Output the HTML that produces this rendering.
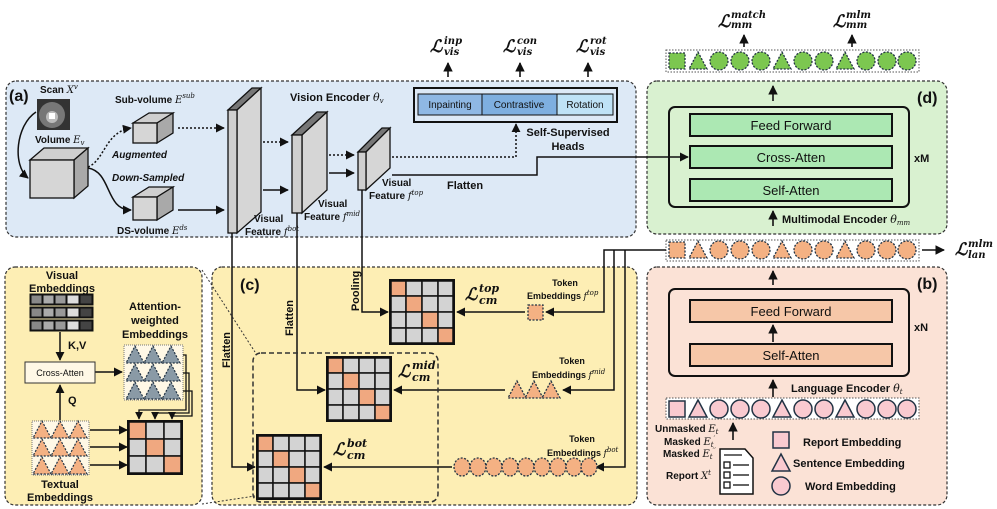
<!DOCTYPE html>
<html><head><meta charset="utf-8"><style>
html,body{margin:0;padding:0;background:#fff}
svg{display:block}
text{font-family:"Liberation Sans",sans-serif;font-weight:bold;fill:#111}
.m{font-family:"DejaVu Serif","Liberation Serif",serif;font-style:italic;font-weight:bold}
.r{font-weight:normal}
</style></head><body>
<svg width="997" height="509" viewBox="0 0 997 509" xmlns="http://www.w3.org/2000/svg">
<defs>
<marker id="ah" viewBox="0 0 10 10" refX="9" refY="5" markerWidth="6" markerHeight="6" orient="auto-start-reverse"><path d="M0,0 L10,5 L0,10 z" fill="#111"/></marker>
<g id="sq"><rect x="-8" y="-8" width="16" height="16"/></g>
<g id="tr"><polygon points="0,-9 9,8 -9,8"/></g>
<g id="ci"><circle r="9"/></g>
<g id="m4">
<rect x="0" y="0" width="64" height="64" fill="#d3d3d3" stroke="#111" stroke-width="2"/>
<g stroke="#111" stroke-width="1.5" fill="#d3d3d3">
<rect x="1" y="1" width="15" height="15" fill="#f0a880"/><rect x="16" y="1" width="16" height="15"/><rect x="32" y="1" width="16" height="15"/><rect x="48" y="1" width="15" height="15"/>
<rect x="1" y="16" width="15" height="16"/><rect x="16" y="16" width="16" height="16" fill="#f0a880"/><rect x="32" y="16" width="16" height="16"/><rect x="48" y="16" width="15" height="16"/>
<rect x="1" y="32" width="15" height="16"/><rect x="16" y="32" width="16" height="16"/><rect x="32" y="32" width="16" height="16" fill="#f0a880"/><rect x="48" y="32" width="15" height="16"/>
<rect x="1" y="48" width="15" height="15"/><rect x="16" y="48" width="16" height="15"/><rect x="32" y="48" width="16" height="15"/><rect x="48" y="48" width="15" height="15" fill="#f0a880"/>
</g></g>
<g id="tri3"><use href="#tr" x="-18" y="0"/><use href="#tr" x="0" y="0"/><use href="#tr" x="18" y="0"/></g>
</defs>

<!-- Panels -->
<rect x="6" y="81" width="630" height="156" rx="10" fill="#dde9f6" stroke="#333" stroke-dasharray="3,2" stroke-width="1.2"/>
<rect x="647" y="81" width="300" height="153" rx="10" fill="#d9f1d0" stroke="#333" stroke-dasharray="3,2" stroke-width="1.2"/>
<rect x="647" y="267" width="300" height="238" rx="10" fill="#fbe2d6" stroke="#333" stroke-dasharray="3,2" stroke-width="1.2"/>
<rect x="5" y="267" width="197" height="238" rx="10" fill="#fdeeb4" stroke="#333" stroke-dasharray="3,2" stroke-width="1.2"/>
<rect x="212" y="267" width="425" height="238" rx="10" fill="#fdeeb4" stroke="#333" stroke-dasharray="3,2" stroke-width="1.2"/>

<!-- Top L_vis -->
<text x="430" y="52" class="m" font-size="17">ℒ</text><text x="444" y="44" class="m" font-size="10">inp</text><text x="444" y="55" class="m" font-size="10">vis</text>
<text x="503" y="52" class="m" font-size="17">ℒ</text><text x="517" y="44" class="m" font-size="10">con</text><text x="517" y="55" class="m" font-size="10">vis</text>
<text x="576" y="52" class="m" font-size="17">ℒ</text><text x="590" y="44" class="m" font-size="10">rot</text><text x="590" y="55" class="m" font-size="10">vis</text>
<g stroke="#111" stroke-width="1.6" marker-end="url(#ah)"><line x1="448" y1="77" x2="448" y2="63"/><line x1="520" y1="77" x2="520" y2="63"/><line x1="588" y1="77" x2="588" y2="63"/></g>

<!-- Panel a -->
<text x="9" y="101" font-size="16">(a)</text>
<text x="40" y="93" font-size="10">Scan <tspan class="m r">X</tspan><tspan class="m r" font-size="7" dy="-4">v</tspan></text>
<rect x="37" y="99" width="33" height="31" fill="#333"/><circle cx="52" cy="115" r="13" fill="#777"/><circle cx="52" cy="117" r="6" fill="#bbb"/><rect x="49" y="113" width="6" height="6" fill="#fff"/>
<text x="35" y="143" font-size="10">Volume <tspan class="m r">E</tspan><tspan class="m r" font-size="7" dy="2">v</tspan></text>
<path d="M36,112 C16,125 12,165 28,178" fill="none" stroke="#111" stroke-width="1.5" marker-end="url(#ah)"/>
<!-- big cube -->
<polygon points="30,160 44,148 88,148 74,160" fill="#cfcfcf" stroke="#111" stroke-width="1.3"/>
<polygon points="74,160 88,148 88,186 74,198" fill="#a9a9a9" stroke="#111" stroke-width="1.3"/>
<rect x="30" y="160" width="44" height="38" fill="#d6d6d6" stroke="#111" stroke-width="1.3"/>
<path d="M88,167 C105,160 105,132 131,128" fill="none" stroke="#111" stroke-width="1.5" stroke-dasharray="2,2" marker-end="url(#ah)"/>
<path d="M88,168 C112,172 105,210 131,210" fill="none" stroke="#111" stroke-width="1.5" marker-end="url(#ah)"/>
<text x="112" y="158" font-size="10" font-style="italic">Augmented</text>
<text x="112" y="181" font-size="10" font-style="italic">Down-Sampled</text>
<!-- sub cube -->
<text x="115" y="103" font-size="10">Sub-volume <tspan class="m r">E</tspan><tspan class="m r" font-size="7" dy="-5">sub</tspan></text>
<polygon points="133,123 149,113 173,113 157,123" fill="#cfcfcf" stroke="#111" stroke-width="1.3"/>
<polygon points="157,123 173,113 173,133 157,143" fill="#a9a9a9" stroke="#111" stroke-width="1.3"/>
<rect x="133" y="123" width="24" height="20" fill="#d6d6d6" stroke="#111" stroke-width="1.3"/>
<!-- ds cube -->
<polygon points="133,197 149,187 173,187 157,197" fill="#cfcfcf" stroke="#111" stroke-width="1.3"/>
<polygon points="157,197 173,187 173,210 157,220" fill="#a9a9a9" stroke="#111" stroke-width="1.3"/>
<rect x="133" y="197" width="24" height="23" fill="#d6d6d6" stroke="#111" stroke-width="1.3"/>
<text x="117" y="234" font-size="10">DS-volume <tspan class="m r">E</tspan><tspan class="m r" font-size="7" dy="-4">ds</tspan></text>
<line x1="178" y1="128" x2="224" y2="128" stroke="#111" stroke-width="1.5" stroke-dasharray="2,2" marker-end="url(#ah)"/>
<line x1="178" y1="210" x2="224" y2="210" stroke="#111" stroke-width="1.5" marker-end="url(#ah)"/>
<!-- slabs -->
<polygon points="228,110 252,88 261,88 237,110" fill="#777" stroke="#111" stroke-width="1.3"/>
<polygon points="237,110 261,88 261,212 237,233" fill="#d6d6d6" stroke="#111" stroke-width="1.3"/>
<rect x="228" y="110" width="9" height="123" fill="#cfcfcf" stroke="#111" stroke-width="1.3"/>
<text x="254" y="222" font-size="10">Visual</text>
<text x="245" y="235" font-size="10">Feature <tspan class="m r">f</tspan><tspan class="m r" font-size="7" dy="-4">bot</tspan></text>
<line x1="263" y1="142" x2="288" y2="142" stroke="#111" stroke-width="1.5" stroke-dasharray="2,2" marker-end="url(#ah)"/>
<line x1="263" y1="190" x2="288" y2="190" stroke="#111" stroke-width="1.5" marker-end="url(#ah)"/>
<polygon points="292,135 317,112 327,112 302,135" fill="#777" stroke="#111" stroke-width="1.3"/>
<polygon points="302,135 327,112 327,190 302,213" fill="#d6d6d6" stroke="#111" stroke-width="1.3"/>
<rect x="292" y="135" width="10" height="78" fill="#cfcfcf" stroke="#111" stroke-width="1.3"/>
<text x="318" y="207" font-size="10">Visual</text>
<text x="304" y="220" font-size="10">Feature <tspan class="m r">f</tspan><tspan class="m r" font-size="7" dy="-4">mid</tspan></text>
<line x1="329" y1="155" x2="354" y2="155" stroke="#111" stroke-width="1.5" stroke-dasharray="2,2" marker-end="url(#ah)"/>
<line x1="329" y1="173" x2="354" y2="173" stroke="#111" stroke-width="1.5" marker-end="url(#ah)"/>
<polygon points="358,152 382,128 390,128 366,152" fill="#777" stroke="#111" stroke-width="1.3"/>
<polygon points="366,152 390,128 390,168 366,190" fill="#d6d6d6" stroke="#111" stroke-width="1.3"/>
<rect x="358" y="152" width="8" height="38" fill="#cfcfcf" stroke="#111" stroke-width="1.3"/>
<text x="382" y="186" font-size="10">Visual</text>
<text x="369" y="199" font-size="10">Feature <tspan class="m r">f</tspan><tspan class="m r" font-size="7" dy="-4">top</tspan></text>
<text x="290" y="101" font-size="11">Vision Encoder <tspan class="m r">θ</tspan><tspan class="m r" font-size="7" dy="2">v</tspan></text>
<!-- heads -->
<rect x="414" y="88" width="203" height="34" fill="#dde9f6" stroke="#111" stroke-width="2"/>
<rect x="418" y="94" width="64" height="21" fill="#8fb8e4" stroke="#111"/>
<rect x="482" y="94" width="75" height="21" fill="#7eafe0" stroke="#111"/>
<rect x="557" y="94" width="56" height="21" fill="#bfe2f6" stroke="#111"/>
<text x="450" y="108" font-size="10" class="r" text-anchor="middle">Inpainting</text>
<text x="519" y="108" font-size="10" class="r" text-anchor="middle">Contrastive</text>
<text x="585" y="108" font-size="10" class="r" text-anchor="middle">Rotation</text>
<text x="568" y="136" font-size="11" text-anchor="middle">Self-Supervised</text>
<text x="568" y="150" font-size="11" text-anchor="middle">Heads</text>
<polyline points="392,157 516,157 516,124" fill="none" stroke="#111" stroke-width="1.5" stroke-dasharray="2,2" marker-end="url(#ah)"/>
<polyline points="392,175 537,175 537,157 688,157" fill="none" stroke="#111" stroke-width="1.5" marker-end="url(#ah)"/>
<text x="447" y="189" font-size="11">Flatten</text>

<!-- Panel d -->
<rect x="666" y="50" width="253" height="22" fill="#fff" stroke="#555" stroke-dasharray="1.5,1.5"/>
<g fill="#7cc750" stroke="#234" stroke-width="1.3" stroke-dasharray="2,1.5">
<use href="#sq" x="677" y="61"/><use href="#tr" x="698" y="61"/><use href="#ci" x="719" y="61"/><use href="#ci" x="740" y="61"/><use href="#ci" x="761" y="61"/><use href="#tr" x="782" y="61"/><use href="#ci" x="803" y="61"/><use href="#ci" x="824" y="61"/><use href="#tr" x="845" y="61"/><use href="#ci" x="866" y="61"/><use href="#ci" x="887" y="61"/><use href="#ci" x="907" y="61"/>
</g>
<text x="718" y="27" class="m" font-size="17">ℒ</text><text x="731" y="18" class="m" font-size="10">match</text><text x="731" y="28" class="m" font-size="10">mm</text>
<text x="833" y="27" class="m" font-size="17">ℒ</text><text x="846" y="18" class="m" font-size="10">mlm</text><text x="846" y="28" class="m" font-size="10">mm</text>
<g stroke="#111" stroke-width="1.6" marker-end="url(#ah)"><line x1="744" y1="47" x2="744" y2="35"/><line x1="852" y1="47" x2="852" y2="35"/><line x1="773" y1="101" x2="773" y2="86"/><line x1="773" y1="226" x2="773" y2="211"/></g>
<text x="917" y="103" font-size="16">(d)</text>
<rect x="669" y="107" width="240" height="100" rx="6" fill="none" stroke="#111" stroke-width="2"/>
<rect x="690" y="114" width="202" height="22" fill="#ace8b3" stroke="#111" stroke-width="2"/>
<rect x="690" y="146" width="202" height="22" fill="#ace8b3" stroke="#111" stroke-width="2"/>
<rect x="690" y="179" width="202" height="22" fill="#ace8b3" stroke="#111" stroke-width="2"/>
<text x="791" y="130" font-size="13" class="r" text-anchor="middle">Feed Forward</text>
<text x="791" y="162" font-size="13" class="r" text-anchor="middle">Cross-Atten</text>
<text x="791" y="195" font-size="13" class="r" text-anchor="middle">Self-Atten</text>
<text x="914" y="162" font-size="11">xM</text>
<text x="782" y="223" font-size="11">Multimodal Encoder <tspan class="m r">θ</tspan><tspan class="m r" font-size="7" dy="2">mm</tspan></text>

<!-- mid token row -->
<rect x="666" y="240" width="253" height="21" fill="#fff" stroke="#555" stroke-dasharray="1.5,1.5"/>
<g fill="#f4b183" stroke="#234" stroke-width="1.3" stroke-dasharray="2,1.5">
<use href="#sq" x="677" y="250"/><use href="#tr" x="698" y="250"/><use href="#ci" x="719" y="250"/><use href="#ci" x="740" y="250"/><use href="#ci" x="761" y="250"/><use href="#tr" x="782" y="250"/><use href="#ci" x="803" y="250"/><use href="#ci" x="824" y="250"/><use href="#tr" x="845" y="250"/><use href="#ci" x="866" y="250"/><use href="#ci" x="887" y="250"/><use href="#ci" x="907" y="250"/>
</g>
<line x1="922" y1="250" x2="944" y2="250" stroke="#111" stroke-width="1.6" marker-end="url(#ah)"/>
<text x="955" y="255" class="m" font-size="17">ℒ</text><text x="968" y="247" class="m" font-size="10">mlm</text><text x="968" y="258" class="m" font-size="10">lan</text>

<!-- Panel b -->
<g stroke="#111" stroke-width="1.6" marker-end="url(#ah)"><line x1="773" y1="285" x2="773" y2="271"/><line x1="773" y1="342" x2="773" y2="325"/><line x1="773" y1="397" x2="773" y2="380"/><line x1="733" y1="440" x2="733" y2="423"/></g>
<text x="917" y="289" font-size="16">(b)</text>
<rect x="669" y="289" width="240" height="87" rx="6" fill="none" stroke="#111" stroke-width="2"/>
<rect x="690" y="300" width="202" height="22" fill="#f6c7a8" stroke="#111" stroke-width="2"/>
<rect x="690" y="344" width="202" height="22" fill="#f6c7a8" stroke="#111" stroke-width="2"/>
<text x="791" y="316" font-size="13" class="r" text-anchor="middle">Feed Forward</text>
<text x="791" y="360" font-size="13" class="r" text-anchor="middle">Self-Atten</text>
<text x="914" y="331" font-size="11">xN</text>
<text x="791" y="392" font-size="11">Language Encoder <tspan class="m r">θ</tspan><tspan class="m r" font-size="7" dy="2">t</tspan></text>
<rect x="666" y="398" width="253" height="21" fill="#fff" stroke="#555" stroke-dasharray="1.5,1.5"/>
<g fill="#f9cad0" stroke="#234" stroke-width="1.5">
<use href="#sq" x="677" y="409"/><use href="#tr" x="698" y="409"/><use href="#ci" x="719" y="409"/><use href="#ci" x="740" y="409"/><use href="#ci" x="761" y="409"/><use href="#tr" x="782" y="409"/><use href="#ci" x="803" y="409"/><use href="#ci" x="824" y="409"/><use href="#tr" x="845" y="409"/><use href="#ci" x="866" y="409"/><use href="#ci" x="887" y="409"/><use href="#ci" x="907" y="409"/>
<use href="#sq" x="781" y="440"/><use href="#tr" x="781" y="463"/><use href="#ci" x="781" y="486"/>
</g>
<text x="655" y="432" font-size="10">Unmasked <tspan class="m r">E</tspan><tspan class="m r" font-size="7" dy="2">t</tspan></text>
<text x="664" y="445" font-size="10">Masked <tspan class="m r">E</tspan><tspan class="m r" font-size="7" dy="2">t</tspan><tspan class="m r" font-size="7" dy="-6">′</tspan></text>
<text x="663" y="457" font-size="10">Masked <tspan class="m r">E</tspan><tspan class="m r" font-size="7" dy="2">t</tspan><tspan class="m r" font-size="7" dy="-6">′′</tspan></text>
<text x="666" y="479" font-size="10">Report <tspan class="m r">X</tspan><tspan class="m r" font-size="7" dy="-4">t</tspan></text>
<path d="M720,449 L745,449 L753,458 L753,494 L720,494 Z" fill="#fff" stroke="#111" stroke-width="1.5"/>
<g stroke="#111" stroke-width="1.3" fill="none"><rect x="724" y="462" width="6" height="6"/><rect x="724" y="472" width="6" height="6"/><rect x="724" y="482" width="6" height="6"/><line x1="733" y1="465" x2="749" y2="465"/><line x1="733" y1="475" x2="749" y2="475"/><line x1="733" y1="485" x2="749" y2="485"/><line x1="724" y1="455" x2="742" y2="455"/></g>
<text x="803" y="446" font-size="11">Report Embedding</text>
<text x="793" y="467" font-size="11">Sentence Embedding</text>
<text x="805" y="490" font-size="11">Word Embedding</text>

<!-- Panel c -->
<text x="240" y="290" font-size="16">(c)</text>
<g fill="none" stroke="#111" stroke-width="1.5">
<polyline points="666,250 604,250 604,312 546,312" marker-end="url(#ah)"/>
<polyline points="614,250 614,390 563,390" marker-end="url(#ah)"/>
<polyline points="625,250 625,467 596,467" marker-end="url(#ah)"/>
<polyline points="232,233 232,467 255,467" marker-end="url(#ah)"/>
<polyline points="297,213 297,390 325,390" marker-end="url(#ah)"/>
<polyline points="362,190 362,312 388,312" marker-end="url(#ah)"/>
<line x1="525" y1="312" x2="457" y2="312" marker-end="url(#ah)"/>
<line x1="505" y1="390" x2="394" y2="390" marker-end="url(#ah)"/>
<line x1="452" y1="467" x2="324" y2="467" marker-end="url(#ah)"/>
</g>
<text transform="translate(230,350) rotate(-90)" font-size="11" text-anchor="middle">Flatten</text>
<text transform="translate(293,318) rotate(-90)" font-size="11" text-anchor="middle">Flatten</text>
<text transform="translate(359,291) rotate(-90)" font-size="11" text-anchor="middle">Pooling</text>
<rect x="253" y="353" width="185" height="149" rx="8" fill="none" stroke="#333" stroke-width="1.5" stroke-dasharray="5,3"/>
<use href="#m4" x="390" y="280"/>
<use href="#m4" x="327" y="357"/>
<use href="#m4" x="257" y="435"/>
<text x="465" y="300" class="m" font-size="17">ℒ</text><text x="479" y="292" class="m" font-size="11">top</text><text x="479" y="304" class="m" font-size="11">cm</text>
<text x="398" y="377" class="m" font-size="17">ℒ</text><text x="412" y="369" class="m" font-size="11">mid</text><text x="412" y="381" class="m" font-size="11">cm</text>
<text x="333" y="455" class="m" font-size="17">ℒ</text><text x="347" y="447" class="m" font-size="11">bot</text><text x="347" y="459" class="m" font-size="11">cm</text>
<text x="565" y="286" font-size="9" text-anchor="middle">Token</text>
<text x="527" y="299" font-size="9">Embeddings <tspan class="m r">f</tspan><tspan class="m r" font-size="7" dy="-4">top</tspan></text>
<text x="572" y="364" font-size="9" text-anchor="middle">Token</text>
<text x="532" y="378" font-size="9">Embeddings <tspan class="m r">f</tspan><tspan class="m r" font-size="7" dy="-4">mid</tspan></text>
<text x="582" y="442" font-size="9" text-anchor="middle">Token</text>
<text x="547" y="456" font-size="9">Embeddings <tspan class="m r">f</tspan><tspan class="m r" font-size="7" dy="-4">bot</tspan></text>
<g fill="#f4b183" stroke="#234" stroke-width="1.3" stroke-dasharray="2,1.5">
<rect x="528" y="305" width="15" height="15"/>
<use href="#tr" x="517" y="390"/><use href="#tr" x="534" y="390"/><use href="#tr" x="551" y="390"/>
<g transform="translate(0,467) scale(1,1)">
<ellipse cx="462" cy="0" rx="8" ry="9"/><ellipse cx="478" cy="0" rx="8" ry="9"/><ellipse cx="494" cy="0" rx="8" ry="9"/><ellipse cx="510" cy="0" rx="8" ry="9"/><ellipse cx="526" cy="0" rx="8" ry="9"/><ellipse cx="542" cy="0" rx="8" ry="9"/><ellipse cx="558" cy="0" rx="8" ry="9"/><ellipse cx="574" cy="0" rx="8" ry="9"/><ellipse cx="589" cy="0" rx="8" ry="9"/>
</g></g>

<!-- Left panel -->
<line x1="202" y1="270" x2="255" y2="352" stroke="#333" stroke-dasharray="2,2"/>
<line x1="202" y1="504" x2="255" y2="496" stroke="#333" stroke-dasharray="2,2"/>
<text x="62" y="279" font-size="11" text-anchor="middle">Visual</text>
<text x="62" y="292" font-size="11" text-anchor="middle">Embeddings</text>
<g stroke="#111" stroke-width="1">
<rect x="30" y="294" width="63" height="11" fill="#222"/><rect x="30" y="307" width="63" height="11" fill="#222"/><rect x="30" y="320" width="63" height="11" fill="#222"/>
<g fill="#888"><rect x="31" y="295" width="11" height="9"/><rect x="31" y="308" width="11" height="9"/><rect x="31" y="321" width="11" height="9"/></g>
<g fill="#aaa"><rect x="43" y="295" width="11" height="9"/><rect x="43" y="308" width="11" height="9"/><rect x="43" y="321" width="11" height="9"/></g>
<g fill="#999"><rect x="55" y="295" width="11" height="9"/><rect x="55" y="308" width="11" height="9"/><rect x="55" y="321" width="11" height="9"/></g>
<g fill="#ddd"><rect x="67" y="295" width="12" height="9"/><rect x="67" y="308" width="12" height="9"/><rect x="67" y="321" width="12" height="9"/></g>
<g fill="#444"><rect x="80" y="295" width="12" height="9"/><rect x="80" y="308" width="12" height="9"/><rect x="80" y="321" width="12" height="9"/></g>
</g>
<text x="68" y="349" font-size="11">K,V</text>
<text x="68" y="404" font-size="11">Q</text>
<g stroke="#111" stroke-width="1.5" marker-end="url(#ah)">
<line x1="60" y1="332" x2="60" y2="360"/><line x1="60" y1="420" x2="60" y2="385"/><line x1="95" y1="372" x2="122" y2="372"/>
<line x1="90" y1="430" x2="127" y2="430"/><line x1="90" y1="447" x2="127" y2="447"/><line x1="90" y1="465" x2="127" y2="465"/>
</g>
<rect x="25" y="362" width="70" height="21" fill="#fff8e6" stroke="#333"/>
<text x="60" y="376" font-size="9" class="r" text-anchor="middle">Cross-Atten</text>
<text x="155" y="310" font-size="11" text-anchor="middle">Attention-</text>
<text x="155" y="324" font-size="11" text-anchor="middle">weighted</text>
<text x="155" y="338" font-size="11" text-anchor="middle">Embeddings</text>
<rect x="124" y="345" width="59" height="55" fill="#fff8e6" stroke="#777" stroke-dasharray="1,1"/>
<rect x="32" y="421" width="57" height="54" fill="#fff8e6" stroke="#777" stroke-dasharray="1,1"/>
<g fill="#8a9aa6" stroke="#234" stroke-width="1.2" stroke-dasharray="2,1.5">
<use href="#tri3" x="153" y="355" transform=""/><use href="#tri3" x="153" y="373"/><use href="#tri3" x="153" y="391"/>
</g>
<g fill="#f4b183" stroke="#234" stroke-width="1.2" stroke-dasharray="2,1.5">
<use href="#tri3" x="60" y="430"/><use href="#tri3" x="60" y="448"/><use href="#tri3" x="60" y="466"/>
</g>
<g fill="none" stroke="#111" stroke-width="1.3">
<polyline points="183,355 186,355 186,410 139,410 139,419" marker-end="url(#ah)"/>
<polyline points="183,373 189,373 189,413 155,413 155,419" marker-end="url(#ah)"/>
<polyline points="183,391 192,391 192,416 172,416 172,419" marker-end="url(#ah)"/>
</g>
<g stroke="#111" stroke-width="1.5">
<rect x="128" y="421" width="54" height="53" fill="#d3d3d3" stroke-width="2"/>
<rect x="129" y="422" width="17" height="17" fill="#f0a880"/><rect x="146" y="422" width="18" height="17" fill="#d3d3d3"/><rect x="164" y="422" width="17" height="17" fill="#d3d3d3"/>
<rect x="129" y="439" width="17" height="17" fill="#d3d3d3"/><rect x="146" y="439" width="18" height="17" fill="#f0a880"/><rect x="164" y="439" width="17" height="17" fill="#d3d3d3"/>
<rect x="129" y="456" width="17" height="17" fill="#d3d3d3"/><rect x="146" y="456" width="18" height="17" fill="#d3d3d3"/><rect x="164" y="456" width="17" height="17" fill="#f0a880"/>
</g>
<text x="60" y="488" font-size="11" text-anchor="middle">Textual</text>
<text x="60" y="501" font-size="11" text-anchor="middle">Embeddings</text>
</svg>
</body></html>
